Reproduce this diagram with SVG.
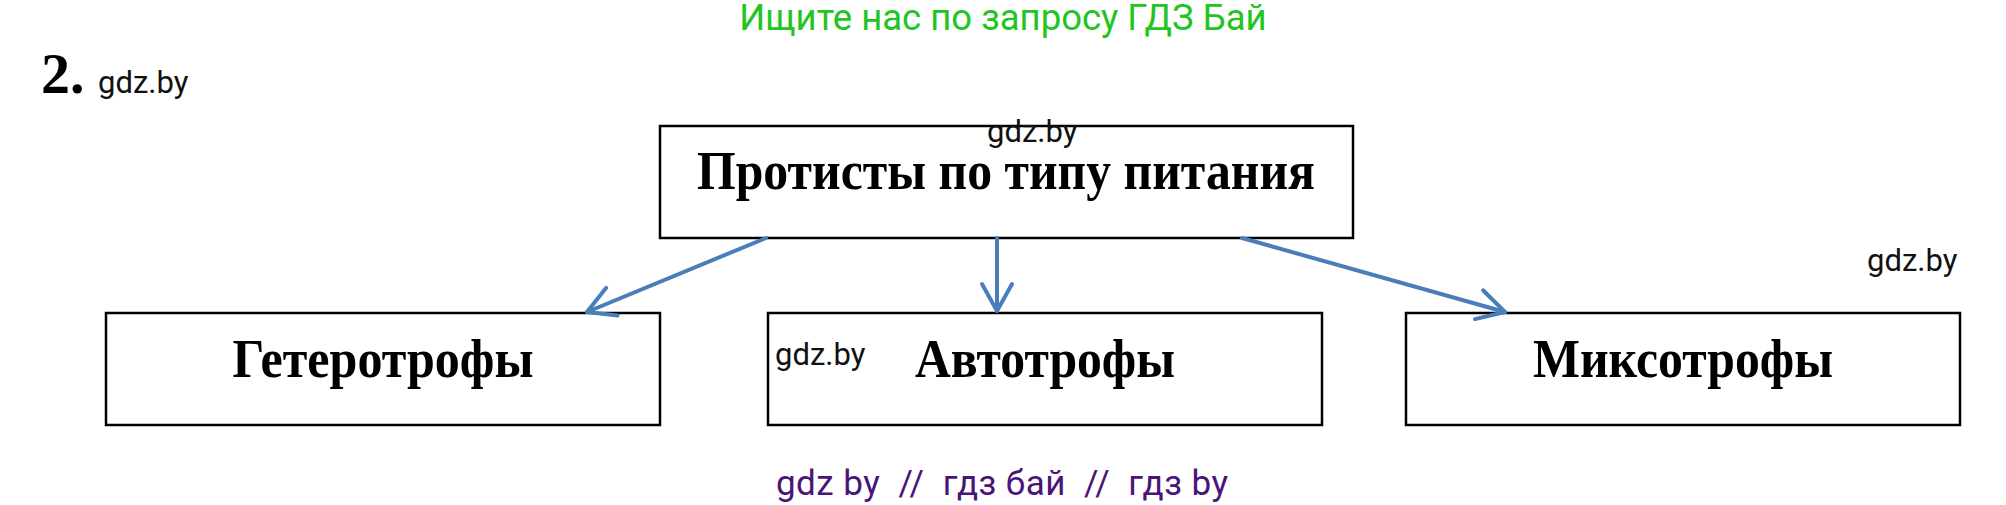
<svg xmlns="http://www.w3.org/2000/svg" width="2006" height="505" viewBox="0 0 2006 505">
<style>
.box{fill:#ffffff;stroke:#000000;stroke-width:2.5}
.lbl{font-family:"Liberation Serif","Times New Roman",serif;font-weight:bold;font-size:54px;fill:#000000;text-anchor:middle}
.wm{font-family:Roboto,"Liberation Sans",Arial,sans-serif;font-size:31px;fill:#111111}
.conn{stroke:#4a7ebb;stroke-width:4;fill:none;stroke-linecap:round}
</style>
<defs>
<marker id="arr" markerUnits="userSpaceOnUse" markerWidth="40" markerHeight="40" viewBox="-35 -20 40 40" refX="0" refY="0" orient="auto">
<path d="M -27,-15 L 0,0 L -27,15" fill="none" stroke="#4a7ebb" stroke-width="4" stroke-linecap="round" stroke-linejoin="round"/>
</marker>
</defs>
<rect width="2006" height="505" fill="#ffffff"/>
<text x="1003" y="30" font-family="Roboto,'Liberation Sans',Arial,sans-serif" font-size="36.5" fill="#21c521" text-anchor="middle">Ищите нас по запросу ГДЗ Бай</text>
<text x="41" y="93" font-family="'Liberation Serif','Times New Roman',serif" font-weight="bold" font-size="58" fill="#000000">2.</text>
<text class="wm" x="98" y="93">gdz.by</text>
<g id="node-root">
<rect class="box" x="660" y="126" width="693" height="112"/>
<text class="wm" x="987" y="142">gdz.by</text>
<text class="lbl" x="1006" y="189" textLength="618" lengthAdjust="spacingAndGlyphs">Протисты по типу питания</text>
</g>
<g id="node-hetero">
<rect class="box" x="106" y="313" width="554" height="112"/>
<text class="lbl" x="383" y="377" textLength="301" lengthAdjust="spacingAndGlyphs">Гетеротрофы</text>
</g>
<g id="node-auto">
<rect class="box" x="768" y="313" width="554" height="112"/>
<text class="wm" x="775" y="365">gdz.by</text>
<text class="lbl" x="1045" y="377" textLength="260" lengthAdjust="spacingAndGlyphs">Автотрофы</text>
</g>
<g id="node-mixo">
<rect class="box" x="1406" y="313" width="554" height="112"/>
<text class="lbl" x="1683" y="377" textLength="300" lengthAdjust="spacingAndGlyphs">Миксотрофы</text>
</g>
<g id="connectors">
<line class="conn" x1="766" y1="238" x2="587" y2="312" marker-end="url(#arr)"/>
<line class="conn" x1="997" y1="238" x2="997" y2="311" marker-end="url(#arr)"/>
<line class="conn" x1="1242" y1="238" x2="1505" y2="312" marker-end="url(#arr)"/>
</g>
<text class="wm" x="1867" y="271">gdz.by</text>
<text x="776" y="495" font-family="Roboto,'Liberation Sans',Arial,sans-serif" font-size="35" fill="#4a1578" xml:space="preserve" style="white-space:pre" textLength="452" lengthAdjust="spacing">gdz by  //  гдз бай  //  гдз by</text>
</svg>
